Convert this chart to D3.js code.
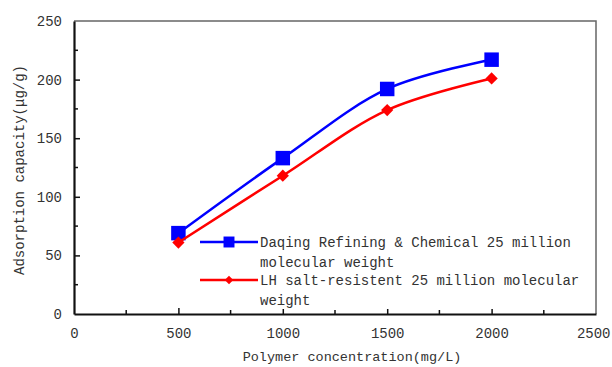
<!DOCTYPE html>
<html>
<head>
<meta charset="utf-8">
<script src="https://cdn.jsdelivr.net/npm/d3@7"></script>
<style>
  body { margin: 0; background: #fff; }
  text { font-family: "Liberation Mono", "DejaVu Sans Mono", monospace; fill: #333; }
</style>
</head>
<body>
<div id="chart"></div>
<script>
    const width = 612, height = 367;

    // data
    const concentrations = [500, 1000, 1500, 2000];
    const daqingValues = [69, 133, 192, 217];
    const lhValues = [61, 118, 174, 201];
    const seriesNames = [
        ["Daqing Refining & Chemical 25 million", "molecular weight"],
        ["LH salt-resistent 25 million molecular", "weight"]
    ];
    const xTicks = [0, 500, 1000, 1500, 2000, 2500];
    const yTicks = [0, 50, 100, 150, 200, 250];

    const margin = {left: 74, top: 21, right: 16, bottom: 53};

    const svg = d3.select("#chart")
        .append("svg")
        .attr("width", width)
        .attr("height", height);

    const x = d3.scaleLinear().domain([0, 2500]).range([margin.left, width - margin.right]);
    const y = d3.scaleLinear().domain([0, 250]).range([height - margin.bottom, margin.top]);

    // frame: top/right in grey
    svg.append("path")
        .attr("d", `M${x(0)},${y(250)}H${x(2500)}V${y(0)}`)
        .attr("fill", "none")
        .attr("stroke", "#666")
        .attr("stroke-width", 1.5);

    // minor ticks (inside)
    const minorX = d3.range(250, 2500, 500);
    const minorY = d3.range(25, 250, 50);
    svg.selectAll(".mx").data(minorX).enter().append("line")
        .attr("x1", d => x(d)).attr("x2", d => x(d))
        .attr("y1", y(0)).attr("y2", y(0) - 4)
        .attr("stroke", "#111").attr("stroke-width", 1.5);
    svg.selectAll(".my").data(minorY).enter().append("line")
        .attr("x1", x(0)).attr("x2", x(0) + 4)
        .attr("y1", d => y(d)).attr("y2", d => y(d))
        .attr("stroke", "#111").attr("stroke-width", 1.5);

    // axes
    const xAxis = svg.append("g")
        .attr("transform", `translate(0,${y(0)})`)
        .call(d3.axisBottom(x).tickValues(xTicks).tickFormat(d3.format("d"))
            .tickSizeInner(-6).tickSizeOuter(0).tickPadding(14));
    const yAxis = svg.append("g")
        .attr("transform", `translate(${x(0)},0)`)
        .call(d3.axisLeft(y).tickValues(yTicks).tickFormat(d3.format("d"))
            .tickSizeInner(-6).tickSizeOuter(0).tickPadding(12));

    [xAxis, yAxis].forEach(g => {
        g.select(".domain").attr("stroke", "#111").attr("stroke-width", 2.2);
        g.selectAll(".tick line").attr("stroke", "#111").attr("stroke-width", 1.5);
        g.selectAll(".tick text")
            .style("font-family", "'Liberation Mono', monospace")
            .style("font-size", "14px")
            .attr("fill", "#444");
    });
    // last x label sits at the window edge
    xAxis.selectAll(".tick").filter(d => d === 2500).select("text")
        .attr("text-anchor", "end").attr("dx", 14);
    // hide ticks that sit on the frame corners
    xAxis.selectAll(".tick").filter(d => d === 0 || d === 2500).select("line").remove();
    yAxis.selectAll(".tick").filter(d => d === 0 || d === 250).select("line").remove();

    // axis titles
    svg.append("text")
        .attr("x", 352)
        .attr("y", 361)
        .attr("text-anchor", "middle")
        .style("font-size", "13.5px")
        .text("Polymer concentration(mg/L)");
    svg.append("text")
        .attr("transform", "translate(24,170) rotate(-90)")
        .attr("text-anchor", "middle")
        .style("font-size", "14px")
        .text("Adsorption capacity(μg/g)");

    // series (the diamond is a square turned by 45 degrees)
    const series = [
        {name: seriesNames[0], values: daqingValues, color: "#0000ff", size: 210, legendSize: 120, rot: 0},
        {name: seriesNames[1], values: lhValues, color: "#ff0000", size: 75, legendSize: 36, rot: 45}
    ];

    const line = d3.line()
        .x((d, i) => x(concentrations[i]))
        .y(d => y(d))
        .curve(d3.curveCatmullRom.alpha(0.5));

    series.forEach(s => {
        svg.append("path")
            .attr("d", line(s.values))
            .attr("fill", "none")
            .attr("stroke", s.color)
            .attr("stroke-width", 2.5);
        svg.selectAll(null).data(s.values).enter().append("path")
            .attr("transform", (d, i) => `translate(${x(concentrations[i])},${y(d)}) rotate(${s.rot})`)
            .attr("d", d3.symbol().type(d3.symbolSquare).size(s.size))
            .attr("fill", s.color);
    });

    // legend
    const legend = svg.append("g").attr("transform", "translate(200,242)");
    series.forEach((s, i) => {
        const g = legend.append("g").attr("transform", `translate(0,${i * 38})`);
        g.append("rect").attr("x", -2).attr("y", -9).attr("width", 385).attr("height", 38).attr("fill", "#fff");
        g.append("line")
            .attr("x1", 0).attr("x2", 58)
            .attr("stroke", s.color).attr("stroke-width", 2.5);
        g.append("path")
            .attr("transform", `translate(29,0) rotate(${s.rot})`)
            .attr("d", d3.symbol().type(d3.symbolSquare).size(s.legendSize))
            .attr("fill", s.color);
        s.name.forEach((t, j) => {
            g.append("text")
                .attr("x", 60)
                .attr("y", 5 + j * 20)
                .style("font-size", "14px")
                .attr("fill", "#222")
                .text(t);
        });
    });
</script>
</body>
</html>
